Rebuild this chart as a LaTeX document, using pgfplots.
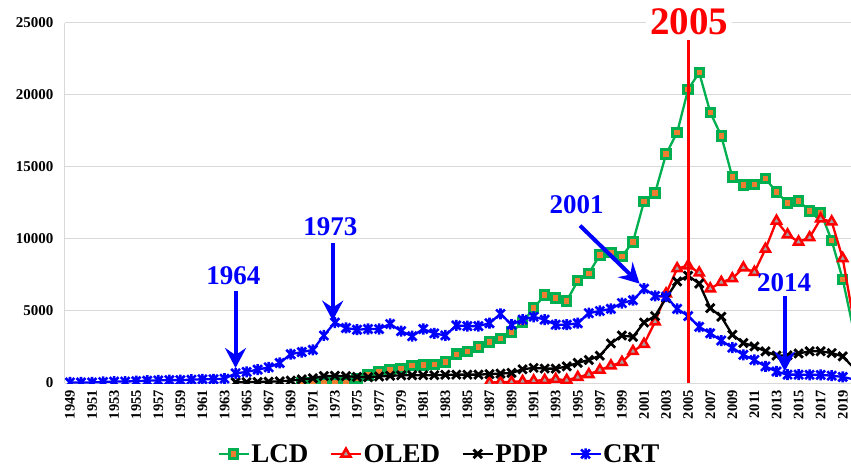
\documentclass[border=0pt]{standalone}
\usepackage{fontspec}
\setmainfont{Liberation Serif}
\usepackage{pgfplots}
\usepackage{pgfplotstable}
\pgfplotsset{compat=1.18}
\usetikzlibrary{arrows.meta}
\definecolor{lcdgreen}{HTML}{00B050}
\definecolor{lcdorange}{HTML}{ED7D31}
\definecolor{oledgrey}{HTML}{A5A5A5}
\definecolor{gridgrey}{HTML}{D9D9D9}
\definecolor{cblue}{HTML}{0000FF}
\definecolor{cred}{HTML}{FF0000}

\pgfdeclareplotmark{xstar}{%
  \pgfpathmoveto{\pgfqpoint{-.8\pgfplotmarksize}{-.8\pgfplotmarksize}}%
  \pgfpathlineto{\pgfqpoint{.8\pgfplotmarksize}{.8\pgfplotmarksize}}%
  \pgfpathmoveto{\pgfqpoint{-.8\pgfplotmarksize}{.8\pgfplotmarksize}}%
  \pgfpathlineto{\pgfqpoint{.8\pgfplotmarksize}{-.8\pgfplotmarksize}}%
  \pgfpathmoveto{\pgfqpoint{0pt}{-\pgfplotmarksize}}%
  \pgfpathlineto{\pgfqpoint{0pt}{\pgfplotmarksize}}%
  \pgfusepathqstroke}

\pgfplotstableread{
year val
1970 0
1971 0
1972 0
1973 20
1974 50
1975 300
1976 550
1977 800
1978 900
1979 1000
1980 1200
1981 1250
1982 1300
1983 1450
1984 2000
1985 2200
1986 2500
1987 2850
1988 3100
1989 3550
1990 4200
1991 5200
1992 6100
1993 5900
1994 5700
1995 7100
1996 7600
1997 8900
1998 9050
1999 8800
2000 9800
2001 12600
2002 13200
2003 15900
2004 17400
2005 20400
2006 21550
2007 18800
2008 17150
2009 14300
2010 13750
2011 13800
2012 14200
2013 13250
2014 12500
2015 12650
2016 11950
2017 11850
2018 9900
2019 7200
2020 3600
}\lcd

\pgfplotstableread{
year val
1987 30
1988 60
1989 80
1990 120
1991 160
1992 200
1993 260
1994 200
1995 400
1996 600
1997 900
1998 1200
1999 1450
2000 2200
2001 2700
2002 4250
2003 6200
2004 7950
2005 8150
2006 7650
2007 6550
2008 7000
2009 7250
2010 8000
2011 7700
2012 9300
2013 11250
2014 10300
2015 9800
2016 10100
2017 11400
2018 11200
2019 8650
2020 4300
}\oled

\pgfplotstableread{
year val
1964 50
1965 60
1966 70
1967 90
1968 110
1969 170
1970 250
1971 330
1972 480
1973 500
1974 480
1975 420
1976 400
1977 450
1978 500
1979 530
1980 540
1981 540
1982 540
1983 570
1984 580
1985 580
1986 580
1987 620
1988 650
1989 700
1990 950
1991 1050
1992 1000
1993 1000
1994 1150
1995 1400
1996 1600
1997 1900
1998 2750
1999 3300
2000 3200
2001 4200
2002 4650
2003 5900
2004 7050
2005 7450
2006 6900
2007 5200
2008 4600
2009 3350
2010 2780
2011 2540
2012 2200
2013 1900
2014 1920
2015 2050
2016 2200
2017 2200
2018 2080
2019 1850
2020 1050
}\pdp

\pgfplotstableread{
year val
1949 40
1950 40
1951 40
1952 70
1953 100
1954 100
1955 130
1956 160
1957 180
1958 200
1959 200
1960 230
1961 260
1962 260
1963 300
1964 670
1965 770
1966 930
1967 1090
1968 1390
1969 2000
1970 2150
1971 2300
1972 3300
1973 4200
1974 3820
1975 3700
1976 3750
1977 3750
1978 4100
1979 3600
1980 3250
1981 3750
1982 3450
1983 3300
1984 4000
1985 3950
1986 3950
1987 4150
1988 4800
1989 4050
1990 4400
1991 4600
1992 4400
1993 4050
1994 4050
1995 4150
1996 4850
1997 5000
1998 5150
1999 5550
2000 5750
2001 6550
2002 6050
2003 6000
2004 5150
2005 4650
2006 3900
2007 3450
2008 2950
2009 2450
2010 1950
2011 1600
2012 1150
2013 800
2014 580
2015 580
2016 570
2017 560
2018 510
2019 420
2020 250
}\crt

\begin{document}
\begin{tikzpicture}
\begin{axis}[
  scale only axis, width=786pt, height=360pt,
  xmin=1948.55, xmax=2019.75, ymin=0, ymax=25000,
  axis x line*=bottom, axis y line*=left,
  axis line style={draw=gridgrey, line width=1pt, -},
  ymajorgrids, grid style={draw=gridgrey, line width=1pt},
  major tick length=0pt,
  xtick={1949,1951,...,2019},
  ytick={0,5000,...,25000},
  scaled x ticks=false, scaled y ticks=false,
  /pgf/number format/1000 sep={},
  /pgf/number format/assume math mode=true,
  xticklabel style={rotate=90, anchor=east, inner xsep=7pt, font=\bfseries\fontsize{14.5}{14.5}\selectfont},
  yticklabel style={font=\bfseries\fontsize{15}{15}\selectfont, xshift=-8pt},
  clip mode=individual, clip marker paths=true,
  legend columns=4,
  legend style={at={(axis description cs:0.476,-0.197)}, anchor=center,
    draw=none, fill=none, font=\bfseries\fontsize{27}{27}\selectfont,
    /tikz/every even column/.append style={column sep=20pt},
    nodes={inner sep=1.5pt}},
  legend image code/.code={\draw[mark repeat=2,mark phase=2] plot coordinates {(0pt,0pt) (15pt,0pt) (30pt,0pt)};},
]
\addplot[color=lcdgreen, line width=2.3pt, mark=square*, mark size=4.2pt,
  mark options={fill=lcdorange, draw=lcdgreen, line width=3pt, line join=miter}] table[x=year,y=val]{\lcd};
\addplot[color=cred, line width=2.3pt, mark=triangle*, mark size=5.3pt,
  mark options={fill=oledgrey, draw=cred, line width=2.5pt}] table[x=year,y=val]{\oled};
\addplot[color=black, line width=2.3pt, mark=x, mark size=6pt,
  mark options={line width=2.8pt}] table[x=year,y=val]{\pdp};
\addplot[color=cblue, line width=2.3pt, mark=xstar, mark size=5.5pt,
  mark options={line width=2.6pt}] table[x=year,y=val]{\crt};
\legend{LCD,OLED,PDP,CRT}

\draw[cred, line width=3pt] (axis cs:2005,0) -- (axis cs:2005,23790);
\node[fill=white, inner sep=4pt, text=cred, font=\bfseries\fontsize{39}{39}\selectfont] at (axis cs:2005.1,25110) {2005};

\node[text=cblue, font=\bfseries\fontsize{27}{27}\selectfont] at (axis cs:1963.8,7450) {1964};
\draw[cblue, line width=4pt, -{Stealth[length=20pt, width=21pt, inset=7pt]}] (axis cs:1964,6360) -- (axis cs:1964,1040);
\node[text=cblue, font=\bfseries\fontsize{27}{27}\selectfont] at (axis cs:1972.6,10830) {1973};
\draw[cblue, line width=4pt, -{Stealth[length=20pt, width=21pt, inset=7pt]}] (axis cs:1972.8,9720) -- (axis cs:1972.8,4330);
\node[text=cblue, font=\bfseries\fontsize{27}{27}\selectfont] at (axis cs:1994.9,12380) {2001};
\draw[cblue, line width=4pt, -{Stealth[length=20pt, width=21pt, inset=7pt]}] (axis cs:1995.2,10930) -- (axis cs:2000.6,6900);
\node[text=cblue, font=\bfseries\fontsize{27}{27}\selectfont] at (axis cs:2013.7,6940) {2014};
\draw[cblue, line width=4pt, -{Stealth[length=20pt, width=21pt, inset=7pt]}] (axis cs:2013.75,6010) -- (axis cs:2013.75,810);

\coordinate (SW) at (rel axis cs:0,0);
\coordinate (NE) at (rel axis cs:1,1);
\end{axis}
\pgfresetboundingbox
\useasboundingbox ([shift={(-65pt,-85pt)}]SW) rectangle ([shift={(0pt,23pt)}]NE);
\end{tikzpicture}
\end{document}
